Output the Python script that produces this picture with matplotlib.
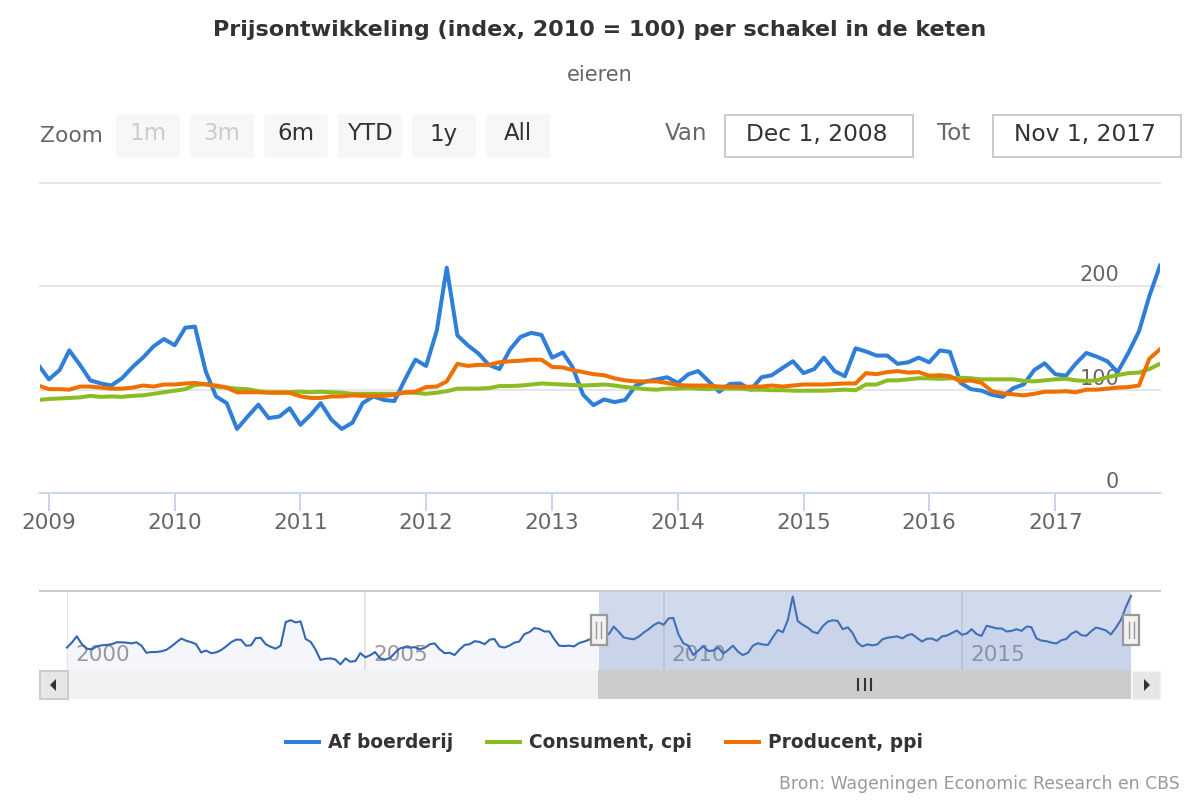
import matplotlib
matplotlib.use("Agg")
import matplotlib.pyplot as plt
import matplotlib.dates as mdates
from matplotlib.patches import Rectangle, FancyBboxPatch, Polygon
from matplotlib.transforms import ScaledTranslation
import pandas as pd

plt.rcParams['font.family'] = ['DejaVu Sans']

TITLE = "Prijsontwikkeling (index, 2010 = 100) per schakel in de keten"
SUBTITLE = "eieren"
CREDIT = "Bron: Wageningen Economic Research en CBS"
SERIES_NAMES = ["Af boerderij", "Consument, cpi", "Producent, ppi"]
SERIES_COLORS = ["#2f7ed8", "#8bbc21", "#ef7000"]
ZOOM_BUTTONS = ["1m", "3m", "6m", "YTD", "1y", "All"]

# monthly values, Dec 2008 - Nov 2017
boerderij = [124,110,119,138,124,109,106,104,111,122,131,142,149,143,160,161,118,93.5,87,62,
             74,85.5,72.5,74,82,66,76,87,71,62,68,87,93.5,90,89,110,129,123,157,218,
             152.5,143,135,124,120,139,151,155,153,131,136,122,95,85,90.5,88,90,104,108,110,
             112,106.5,115,118,108,98,105.5,106,100,112,114,121,127.5,116,120,131,118,113,140,137,
             133,133,125,126.5,131,126.5,138,136.5,106.5,100.5,99,95,93,101.5,105,119,125.5,115,113.5,125,
             135.5,132,127.5,117,135.5,156.5,190.5,220]
consument = [90,91,91.5,92,92.5,94,93,93.5,93,94,94.5,96,97.5,99,100.5,104.5,105.5,103,102,101,
             100.5,98.5,97.5,97.5,97.5,98,97.5,98,97.5,97,96,96,96,96,96,97,97,96,97,98.5,
             101,101,101,101.5,103.5,103.5,104,105,106,105.5,105,104.5,104,104.5,105,104,102.5,101.5,100.5,100,
             101,101,101.5,101,100.5,101.5,101,101,100,100,99.5,99.5,99,99,99,99,99.5,100,99.5,105,
             105,109,109,110,111,111,110.5,111,111.5,111,110,110,110,110,108.5,108,109,110,110.5,109,
             108.5,109,112,114,116,116.5,120,125]
producent = [104,100.5,100.5,100,103,103,102,101,101,102,104,103,105,105,106,106.5,105,104,102,97.5,
             97.5,97.5,97,97,97,93.5,92,92,93.5,93.5,94.5,94,94,94,95,97.5,98,102.5,103,108,
             125,123,124,124,126.5,127.5,128,129,129,122,121.5,119,117,115,114,111,109,108,108,108,
             106.5,104.5,104,104,104,103,103,102.5,103,103,104,103,104,105,105,105,105.5,106,106,116,
             115,117,118,116.5,117,113.5,114,113,108,109,106.5,98.5,96.5,95.5,94.5,96,98,98,98.5,97.5,
             100,100,101,102,102.5,104,130,139]
# navigator series before Dec 2008: Jan 2000 - Nov 2008
history = [82,96,112,91,79,77,85,88,89,91,96,96,95,93,96,87,68,70,70,72,
           76,85,96,106,100,96,91,69,74,67,69,75,85,96,103,103,87,88,107,108,
           91,84,79,87,150,155,149,152,105,97,77,49,52,53,50,37,53,44,46,67,
           56,62,70,53,50,54,68,80,83,82,83,77,82,91,93,77,67,68,62,77,
           89,91,99,97,91,103,105,85,82,87,95,98,118,123,134,132,125,125,105,87,
           86,87,85,94,98,103,109]

dates = pd.date_range("2008-12-01", periods=len(boerderij), freq="MS")
hist_dates = pd.date_range("2000-01-01", periods=len(history), freq="MS")
nav_dates = hist_dates.append(dates)
nav_values = history + boerderij

W, H = 1200, 800
fig = plt.figure(figsize=(12, 8), dpi=100, facecolor="white")

def box(x0, y0, x1, y1):
    return [x0 / W, 1 - y1 / H, (x1 - x0) / W, (y1 - y0) / H]

# main chart
ax = fig.add_axes(box(40, 183, 1160, 493))
ax.patch.set_visible(False)
for v in (100, 200, 300):
    ax.axhline(v, color="#e6e6e6", lw=1.44, zorder=1, clip_on=False)
lines = []
for name, vals, c, z in zip(SERIES_NAMES, [boerderij, consument, producent], SERIES_COLORS, (3, 3.1, 3.2)):
    lines += ax.plot(dates, vals, color=c, lw=2.9, label=name, solid_joinstyle="round", zorder=z)
ax.set_xlim(dates[0] + pd.Timedelta(days=5), dates[-1])
ax.set_ylim(0, 300)
ax.set_axisbelow(False)
for s in ("top", "left", "right"):
    ax.spines[s].set_visible(False)
ax.spines["bottom"].set_color("#ccd6eb")
ax.spines["bottom"].set_linewidth(1.44)
ax.xaxis.set_major_locator(mdates.YearLocator())
ax.xaxis.set_major_formatter(mdates.DateFormatter("%Y"))
ax.tick_params(axis="x", length=13, width=1.44, color="#ccd6eb", labelsize=15.5, labelcolor="#666666", pad=1.5)
ax.yaxis.tick_right()
ax.set_yticks([0, 100, 200])
ax.tick_params(axis="y", length=0, labelsize=15, labelcolor="#666666", pad=-29.5)
for lab in ax.get_yticklabels():
    lab.set_ha("right")
    lab.set_va("bottom")
    lab.set_transform(lab.get_transform() + ScaledTranslation(0, 0.8 / 72, fig.dpi_scale_trans))

fig.legend(handles=lines, loc="center", bbox_to_anchor=(604.5 / W, 1 - 743 / H), ncol=3, frameon=False,
           prop={"weight": "bold", "size": 13.4}, labelcolor="#333333", handlelength=1.75,
           handletextpad=0.48, columnspacing=1.85)

# navigator
nav = fig.add_axes(box(67, 591, 1131, 670))
nav.set_xlim(nav_dates[0], nav_dates[-1])
nav.set_ylim(22, 233)
nav.patch.set_visible(False)
for s in nav.spines.values():
    s.set_visible(False)
nav.set_yticks([])
nav.set_xticks([])
for yr in (2000, 2005, 2010, 2015):
    d = pd.Timestamp(year=yr, month=1, day=1)
    nav.axvline(d, color="#e6e6e6", lw=1.44, zorder=1)
    nav.annotate(str(yr), xy=(d, 0), xycoords=("data", "axes fraction"), xytext=(8, 5),
                 textcoords="offset pixels", fontsize=15.5, color="#999999", ha="left", va="bottom", zorder=2)
nav.fill_between(nav_dates, nav_values, 22, color="#2f5fb5", alpha=0.05, lw=0, zorder=1.5)
nav.plot(nav_dates, nav_values, color="#3366b5", lw=1.5, zorder=3, clip_on=False)
nav.axvspan(dates[0], dates[-1], color="#6685c2", alpha=0.3, lw=0, zorder=4)

# page furniture in pixel coordinates
ov = fig.add_axes([0, 0, 1, 1], zorder=10)
ov.set_xlim(0, W)
ov.set_ylim(H, 0)
ov.axis("off")

ov.text(600, 30, TITLE, ha="center", va="center", fontsize=16, fontweight="bold", color="#333333")
ov.text(600, 75, SUBTITLE, ha="center", va="center", fontsize=15, color="#666666")
ov.text(40, 136, "Zoom", ha="left", va="center", fontsize=15.7, color="#666666")

btn_left = [116, 190, 264, 338, 412, 486]
for lbl, x0 in zip(ZOOM_BUTTONS, btn_left):
    ov.add_patch(FancyBboxPatch((x0 + 4, 118), 56, 36, boxstyle="round,pad=4,rounding_size=4",
                                fc="#f7f7f7", ec="none"))
    ov.text(x0 + 32, 134, lbl, ha="center", va="center", fontsize=16.5,
            color="#cccccc" if lbl in ("1m", "3m") else "#333333")

ov.text(665, 134, "Van", ha="left", va="center", fontsize=16.5, color="#666666")
ov.text(937, 134, "Tot", ha="left", va="center", fontsize=16.5, color="#666666")
for x0, s in ((724, "Dec 1, 2008"), (992, "Nov 1, 2017")):
    ov.add_patch(Rectangle((x0 + 1, 115), 188, 42, fc="white", ec="#cccccc", lw=1.44))
    ov.text(x0 + 93, 134, s, ha="center", va="center", fontsize=16.8, color="#333333")

# navigator top outline and scrollbar
ov.plot([40, 1160], [591, 591], color="#cccccc", lw=1.44)
ov.add_patch(Rectangle((67, 670), 1064, 29, fc="#f2f2f2", ec="none"))
ov.add_patch(Rectangle((598, 670), 533, 29, fc="#cccccc", ec="none"))
ov.add_patch(Rectangle((39.5, 671), 28, 28, fc="#e6e6e6", ec="#cccccc", lw=1.44))
ov.add_patch(Rectangle((1131.5, 671), 28, 28, fc="#e6e6e6", ec="#f2f2f2", lw=1.0))
ov.add_patch(Polygon([[56, 679], [56, 691], [50, 685]], fc="#333333", ec="none"))
ov.add_patch(Polygon([[1144, 679], [1144, 691], [1150, 685]], fc="#333333", ec="none"))
for x in (858, 864.5, 871):
    ov.plot([x, x], [679, 690], color="#333333", lw=1.5)
for x in (598.5, 1131):
    ov.add_patch(Rectangle((x - 8, 615), 16, 30, fc="#f2f2f2", ec="#999999", lw=1.6))
    for dx in (-2.5, 2.5):
        ov.plot([x + dx, x + dx], [622, 638], color="#999999", lw=1.0)

ov.text(1180, 784, CREDIT, ha="right", va="center", fontsize=12.4, color="#999999")

fig.savefig("out.png", dpi=100)
